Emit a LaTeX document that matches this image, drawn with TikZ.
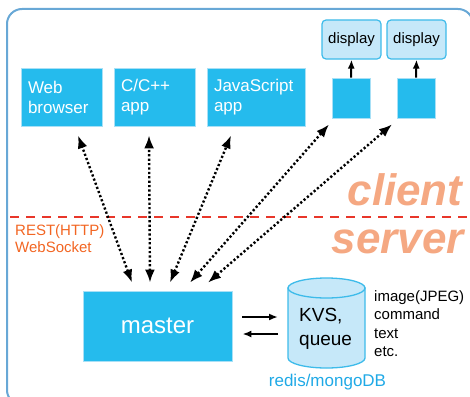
\documentclass[tikz,border=0pt]{standalone}
\usepackage{fontspec}
\setmainfont{Liberation Sans}
\usetikzlibrary{arrows.meta}
\definecolor{boxcyan}{HTML}{25BBED}
\definecolor{boxedge}{HTML}{A8E0F6}
\definecolor{dispfill}{HTML}{C6E8F9}
\definecolor{dispedge}{HTML}{3DBBEA}
\definecolor{frameblue}{HTML}{68A8D6}
\definecolor{dashred}{HTML}{E8362A}
\definecolor{protoorange}{HTML}{F26522}
\definecolor{salmon}{HTML}{F5A882}
\definecolor{dbcyan}{HTML}{1FA9E6}
\tikzset{
  appbox/.style={draw=boxedge, line width=0.8pt, fill=boxcyan, text=white,
    minimum height=58pt, inner xsep=7pt, inner ysep=0pt, align=left,
    font=\fontsize{17}{20}\selectfont},
  smallbox/.style={draw=boxedge, line width=0.8pt, fill=boxcyan,
    minimum width=38pt, minimum height=40pt, inner sep=0pt},
  dispbox/.style={draw=dispedge, line width=1.2pt, fill=dispfill, rounded corners=4pt,
    minimum width=59pt, minimum height=39pt, inner sep=0pt,
    font=\fontsize{15}{18}\selectfont},
  dotarrow/.style={line width=2.4pt, dash pattern=on 2.2pt off 2.2pt,
    {Latex[length=13pt,width=10pt]}-{Latex[length=13pt,width=10pt]}},
  solidarrow/.style={line width=2pt, -{Latex[length=9pt,width=7pt]}},
}
\begin{document}
\begin{tikzpicture}[x=1pt,y=-1pt]
\useasboundingbox (0,0) rectangle (470,396);
% outer frame
\begin{scope}
\clip (0,0) rectangle (470,396);
\draw[frameblue, line width=2pt, rounded corners=15pt] (7,9) rectangle (473,405);
\end{scope}
% dashed client/server line
\draw[dashred, line width=2.5pt, dash pattern=on 9pt off 7pt] (10,217) -- (470,217);
% client / server labels
\node[salmon, font=\fontsize{44}{44}\bfseries\itshape, anchor=base west] (client) at (344,205) {client};
\node[salmon, font=\fontsize{44}{44}\bfseries\itshape, anchor=base west] (server) at (328,253) {server};
\node[protoorange, font=\fontsize{15}{17}\selectfont, align=left, anchor=north west, inner sep=0pt] (proto) at (15,224) {REST(HTTP)\\WebSocket};
% client boxes
\node[appbox, text width=67pt] (web) at (61.5,97) {Web\\browser};
\node[appbox, text width=67pt] (capp) at (154.5,97) {C/C++\\app};
\node[appbox, text width=84pt] (js) at (256,97) {JavaScript\\app};
\node[smallbox] (sb1) at (351,98) {};
\node[smallbox] (sb2) at (416,98) {};
\node[dispbox] (d1) at (351.5,39.5) {display};
\node[dispbox] (d2) at (416.5,39.5) {display};
\draw[solidarrow] (sb1.north) -- (d1.south);
\draw[solidarrow] (sb2.north) -- (d2.south);
% master
\node[draw=boxedge, line width=0.8pt, fill=boxcyan, text=white, minimum width=149pt, minimum height=70pt,
  font=\fontsize{24}{28}\selectfont] (master) at (157.5,326) {master};
% dotted connectors
\draw[dotarrow] ([xshift=-25.5pt,yshift=8pt]master.north) -- ([xshift=16.5pt,yshift=-9pt]web.south);
\draw[dotarrow] ([xshift=-7.5pt,yshift=8pt]master.north) -- ([xshift=-5.5pt,yshift=-9pt]capp.south);
\draw[dotarrow] ([xshift=12.5pt,yshift=8pt]master.north) -- ([xshift=-25pt,yshift=-9pt]js.south);
\draw[dotarrow] ([xshift=32.5pt,yshift=8pt]master.north) -- ([xshift=-22pt,yshift=-6pt]sb1.south);
\draw[dotarrow] ([xshift=50.5pt,yshift=8pt]master.north) -- ([xshift=-24pt,yshift=-6pt]sb2.south);
% cylinder
\filldraw[draw=dispedge, fill=dispfill, line width=1.3pt]
  (288,288) -- (288,358) arc[start angle=180, end angle=0, x radius=38.5, y radius=10] -- (365,288) -- cycle;
\filldraw[draw=dispedge, fill=dispfill, line width=1.3pt] (326.5,288) ellipse[x radius=38.5, y radius=10];
\node[font=\fontsize{19}{24}\selectfont, align=left, anchor=west, inner sep=0pt] (kvs) at (299,329) {KVS,\\queue};
\coordinate (cylw) at (288,326);
\node[dbcyan, font=\fontsize{17}{20}\selectfont, anchor=base, inner sep=0pt] (db) at (327.5,386) {redis/mongoDB};
\node[font=\fontsize{15}{18.5}\selectfont, align=left, anchor=north west, inner sep=0pt] (types) at (374,290) {image(JPEG)\\command\\text\\etc.};
% master <-> kvs arrows
\draw[solidarrow, shorten <=10pt, shorten >=10pt] ([yshift=9pt]master.east) -- ([yshift=9pt]master.east -| cylw);
\draw[solidarrow, shorten <=10pt, shorten >=10pt] ([yshift=-8pt]master.east -| cylw) -- ([yshift=-8pt]master.east);
\end{tikzpicture}
\end{document}
